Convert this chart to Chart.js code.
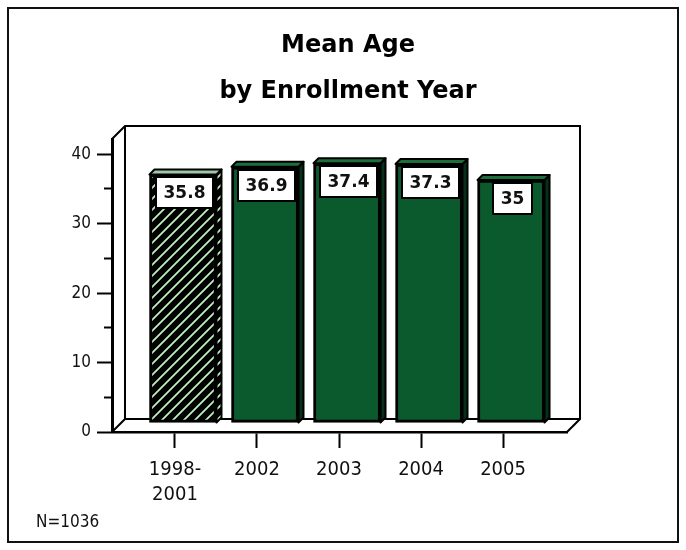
<!DOCTYPE html>
<html><head><meta charset="utf-8">
<script src="https://cdn.jsdelivr.net/npm/chart.js@4/dist/chart.umd.min.js"></script>
<style>html,body{margin:0;padding:0;background:#fff}#wrap{width:686px;height:550px}</style>
</head><body><div id="wrap"><canvas id="c" width="686" height="550"></canvas></div>
<script>
// ---- data ----
const categories = ['1998-2001', '2002', '2003', '2004', '2005'];
const meanAge = [35.8, 36.9, 37.4, 37.3, 35];
const yMajorTicks = [0, 10, 20, 30, 40];
const yMinorTicks = [5, 15, 25, 35];
const titleLines = ['Mean Age', 'by Enrollment Year'];
const footnote = 'N=1036';

// ---- styles ----
const GREEN = '#0b5a2d', DARK = '#05301a', TOPGREEN = '#1c6e3c', STRIPE = '#bff0bf', HATCHTOP = '#9ec8a6';
const SANS_C = '"DejaVu Sans Condensed", "Open Sans", sans-serif';
const SANS_B = '"DejaVu Sans", sans-serif';
const WALL = 13, BAR_DX = 8, BAR_DY = -9, BAR_DEPTH = 5;

function makeHatch() {
  const n = 11;
  const c = document.createElement('canvas'); c.width = c.height = n;
  const g = c.getContext('2d');
  g.fillStyle = '#000'; g.fillRect(0, 0, n, n);
  g.strokeStyle = STRIPE; g.lineWidth = 1.8;
  g.beginPath();
  g.moveTo(-2, n + 2); g.lineTo(n + 2, -2);
  g.moveTo(-2, 2); g.lineTo(2, -2);
  g.moveTo(n - 2, n + 2); g.lineTo(n + 2, n - 2);
  g.stroke();
  return g.createPattern(c, 'repeat');
}
const hatch = makeHatch();

const framePlugin = {
  id: 'frame',
  beforeDraw(chart) {
    const ctx = chart.ctx;
    ctx.save();
    ctx.fillStyle = '#fff'; ctx.fillRect(0, 0, chart.width, chart.height);
    ctx.strokeStyle = '#111'; ctx.lineWidth = 2;
    ctx.strokeRect(8, 8, 670, 534);
    ctx.restore();
  },
  afterDraw(chart) {
    const ctx = chart.ctx;
    ctx.save();
    ctx.font = '17px ' + SANS_C; ctx.fillStyle = '#111';
    ctx.textAlign = 'left'; ctx.textBaseline = 'alphabetic';
    ctx.fillText(footnote, 36, 527);
    ctx.restore();
  }
};

const box3dPlugin = {
  id: 'box3d',
  beforeDatasetsDraw(chart) {
    const ctx = chart.ctx, {left, right, top, bottom} = chart.chartArea, D = WALL;
    ctx.save();
    ctx.strokeStyle = '#000'; ctx.lineWidth = 2; ctx.lineJoin = 'miter';
    ctx.beginPath();
    ctx.moveTo(left, top); ctx.lineTo(left + D, top - D); ctx.lineTo(right + D, top - D);
    ctx.lineTo(right + D, bottom - D); ctx.lineTo(right, bottom);
    ctx.moveTo(left + D, top - D); ctx.lineTo(left + D, bottom - D); ctx.lineTo(right + D, bottom - D);
    ctx.moveTo(left + D, bottom - D); ctx.lineTo(left, bottom);
    ctx.stroke();
    ctx.restore();
    ctx.save();
    ctx.translate(BAR_DX, BAR_DY);
  },
  afterDatasetsDraw(chart) {
    const ctx = chart.ctx, meta = chart.getDatasetMeta(0), d = BAR_DEPTH;
    ctx.lineWidth = 2; ctx.strokeStyle = '#000'; ctx.lineJoin = 'round';
    meta.data.forEach((el, i) => {
      const p = el.getProps(['x', 'y', 'base', 'width'], true);
      const L = p.x - p.width / 2, R = p.x + p.width / 2, t = p.y, b = p.base;
      ctx.beginPath();
      ctx.moveTo(R, t); ctx.lineTo(R + d, t - d); ctx.lineTo(R + d, b - d); ctx.lineTo(R, b); ctx.closePath();
      ctx.fillStyle = i === 0 ? hatch : DARK; ctx.fill(); ctx.stroke();
      ctx.beginPath();
      ctx.moveTo(L, t); ctx.lineTo(L + d, t - d); ctx.lineTo(R + d, t - d); ctx.lineTo(R, t); ctx.closePath();
      ctx.fillStyle = i === 0 ? HATCHTOP : TOPGREEN; ctx.fill(); ctx.stroke();
      // value label box
      const v = chart.data.datasets[0].data[i].y;
      const txt = String(v);
      ctx.font = 'bold 17px ' + SANS_B;
      const tw = ctx.measureText(txt).width;
      const bw = Math.round(tw + 15), bh = 31;
      const bx = Math.round(p.x + 1.5 - bw / 2), by = Math.round(t + 3);
      ctx.fillStyle = '#fff'; ctx.fillRect(bx, by, bw, bh);
      ctx.strokeRect(bx, by, bw, bh);
      ctx.fillStyle = '#111'; ctx.textAlign = 'center'; ctx.textBaseline = 'middle';
      ctx.fillText(txt, bx + bw / 2, by + bh / 2 + 1);
    });
    ctx.restore();
  }
};

new Chart(document.getElementById('c'), {
  type: 'bar',
  data: {
    datasets: [{
      data: meanAge.map((v, i) => ({x: i, y: v})),
      backgroundColor: [hatch, GREEN, GREEN, GREEN, GREEN],
      borderColor: '#000',
      borderWidth: 3,
      borderSkipped: false,
      barThickness: 67,
      yAxisID: 'y'
    }]
  },
  options: {
    responsive: false,
    animation: false,
    devicePixelRatio: 1,
    layout: {padding: {left: 10, right: 0, top: 0, bottom: 0}},
    plugins: {
      legend: {display: false},
      tooltip: {enabled: false},
      title: {
        display: true,
        text: titleLines,
        color: '#000',
        font: {family: SANS_B, size: 24, weight: 'bold', lineHeight: 46 / 24},
        padding: {top: 23, bottom: 24}
      }
    },
    scales: {
      x: {
        type: 'linear',
        position: 'bottom',
        min: -0.768, max: 4.78,
        offset: false,
        afterBuildTicks: (s) => { s.ticks = categories.map((_, i) => ({value: i})); },
        afterFit: (s) => { s.height = 118; },
        grid: {display: true, offset: false, drawOnChartArea: false, drawTicks: true, tickLength: 16, tickWidth: 2, tickColor: '#000'},
        border: {display: true, color: '#000', width: 2.5},
        ticks: {
          autoSkip: false, maxRotation: 0, padding: 9, color: '#111',
          font: {family: SANS_C, size: 20, lineHeight: 1.25},
          callback: (v) => {
            const c = categories[Math.round(v)];
            if (!c) return '';
            const k = c.indexOf('-');
            return k > 0 ? [c.slice(0, k + 1), c.slice(k + 1)] : c;
          }
        }
      },
      y: {
        type: 'linear', position: 'left', weight: 1,
        min: 0, max: 42.2,
        afterBuildTicks: (s) => { s.ticks = yMajorTicks.map(v => ({value: v})); },
        afterFit: (s) => { s.width = 102; },
        grid: {display: true, drawOnChartArea: false, drawTicks: true, tickLength: 15, tickWidth: 2, tickColor: '#000'},
        border: {display: true, color: '#000', width: 3},
        ticks: {padding: 6, color: '#111', font: {family: SANS_C, size: 17}}
      },
      yMinor: {
        type: 'linear', position: 'left', weight: 0,
        min: 0, max: 42.2,
        afterBuildTicks: (s) => { s.ticks = yMinorTicks.map(v => ({value: v})); },
        afterFit: (s) => { s.width = 0; },
        grid: {display: true, drawOnChartArea: false, drawTicks: true, tickLength: 8, tickWidth: 2, tickColor: '#000'},
        border: {display: false},
        ticks: {display: false}
      },
      yRight: {
        type: 'linear', position: 'right',
        afterFit: (s) => { s.width = 119; },
        grid: {display: false}, border: {display: false}, ticks: {display: false}
      }
    }
  },
  plugins: [framePlugin, box3dPlugin]
});
</script>
</body></html>
